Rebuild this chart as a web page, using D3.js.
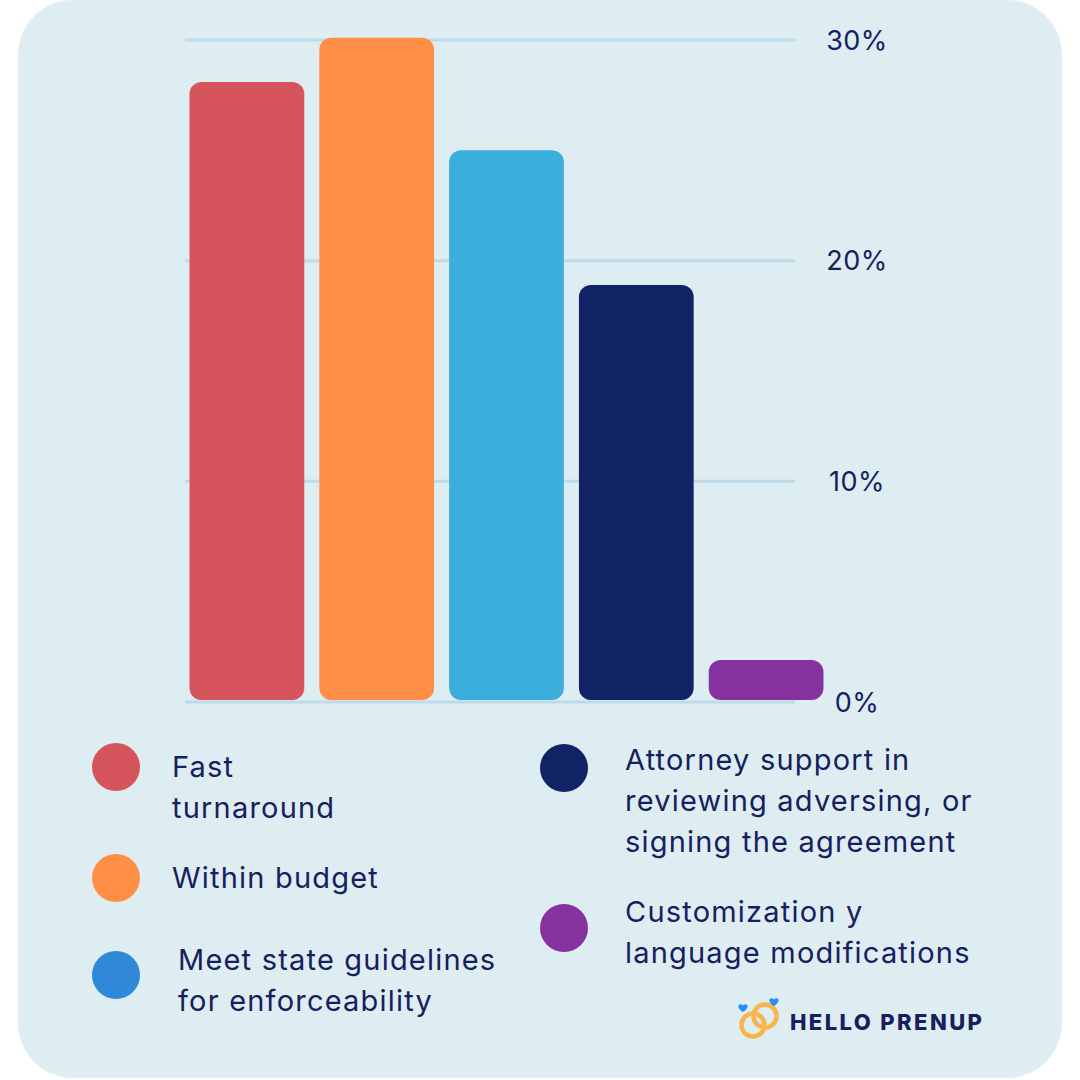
<!DOCTYPE html>
<html>
<head>
<meta charset="utf-8">
<script src="https://cdn.jsdelivr.net/npm/d3@7"></script>
<style>
  body { margin: 0; background: #fff; }
  svg text { font-family: "Inter", "Lato", sans-serif; fill: #16205e; }
</style>
</head>
<body>
<div id="chart"></div>
<script>
// data
const categories = ["Fast turnaround", "Within budget", "Meet state guidelines for enforceability",
  "Attorney support in reviewing adversing, or signing the agreement", "Customization y language modifications"];
const values = [28.1, 30.1, 25.0, 18.9, 1.9];
const barColors = ["#d6545c", "#ff8f47", "#3aafdb", "#112265", "#8531a0"];
const legendColors = ["#d6545c", "#ff8f47", "#2f88d8", "#112265", "#8531a0"];
const legendLines = [
  ["Fast", "turnaround"],
  ["Within budget"],
  ["Meet state guidelines", "for enforceability"],
  ["Attorney support in", "reviewing adversing, or", "signing the agreement"],
  ["Customization y", "language modifications"]
];
const yTicks = [0, 10, 20, 30];

const W = 1080, H = 1080;

let svg = d3.select("#chart").append("svg")
  .attr("width", W)
  .attr("height", H);

// card background
svg.append("rect")
  .attr("x", 18).attr("y", 0)
  .attr("width", 1044).attr("height", 1078)
  .attr("rx", 55)
  .attr("fill", "#deedf1");

let x = d3.scaleBand()
  .domain(categories)
  .range([182, 831])
  .paddingInner(0.116)
  .paddingOuter(0.058);

let y = d3.scaleLinear()
  .domain([0, 30])
  .range([702, 40]);

// gridlines
svg.append("g").selectAll("line")
  .data(yTicks)
  .enter().append("line")
  .attr("x1", 185).attr("x2", 795)
  .attr("y1", d => y(d)).attr("y2", d => y(d))
  .attr("stroke", "#bddbea")
  .attr("stroke-width", 3);

// tick labels on the right
svg.append("g").selectAll("text")
  .data(yTicks)
  .enter().append("text")
  .attr("x", 857)
  .attr("y", d => y(d))
  .attr("dy", "0.36em")
  .attr("text-anchor", "middle")
  .attr("font-size", 27)
  .attr("letter-spacing", 0.5)
  .text(d => d + "%");

// bars
svg.append("g").selectAll("rect")
  .data(values)
  .enter().append("rect")
  .attr("x", (d, i) => x(categories[i]))
  .attr("y", d => y(d))
  .attr("width", x.bandwidth())
  .attr("height", d => y(0) - 2 - y(d))
  .attr("rx", 12)
  .attr("fill", (d, i) => barColors[i]);

// legend
const legendPos = [
  { cx: 116, cy: 767, tx: 172, ty: 777 },
  { cx: 116, cy: 878, tx: 172, ty: 888 },
  { cx: 116, cy: 975, tx: 178, ty: 970 },
  { cx: 564, cy: 768, tx: 625, ty: 770 },
  { cx: 564, cy: 928, tx: 625, ty: 922 }
];
let legend = svg.append("g").selectAll("g")
  .data(legendLines)
  .enter().append("g");

legend.append("circle")
  .attr("cx", (d, i) => legendPos[i].cx)
  .attr("cy", (d, i) => legendPos[i].cy)
  .attr("r", 24)
  .attr("fill", (d, i) => legendColors[i]);

legend.append("text")
  .attr("font-size", 29)
  .attr("letter-spacing", 1.2)
  .each(function (lines, i) {
    let t = d3.select(this);
    lines.forEach((l, j) => {
      t.append("tspan")
        .attr("x", legendPos[i].tx)
        .attr("y", legendPos[i].ty + j * 41)
        .text(l);
    });
  });

// logo: two rings and two little hearts
let logo = svg.append("g");
logo.append("circle").attr("cx", 753).attr("cy", 1025).attr("r", 11.5)
  .attr("fill", "none").attr("stroke", "#f9b54c").attr("stroke-width", 4.5);
logo.append("circle").attr("cx", 765).attr("cy", 1016).attr("r", 11.5)
  .attr("fill", "none").attr("stroke", "#f9b54c").attr("stroke-width", 4.5);
function heart(cx, cy, s) {
  return `M ${cx} ${cy + s} C ${cx - 2 * s} ${cy - 0.2 * s}, ${cx - s} ${cy - 1.6 * s}, ${cx} ${cy - 0.6 * s}
    C ${cx + s} ${cy - 1.6 * s}, ${cx + 2 * s} ${cy - 0.2 * s}, ${cx} ${cy + s} Z`;
}
logo.append("path").attr("d", heart(743, 1008, 4)).attr("fill", "#2a8ef0");
logo.append("path").attr("d", heart(774, 1002, 4)).attr("fill", "#2a8ef0");
logo.append("text")
  .attr("x", 790).attr("y", 1030)
  .attr("font-size", 22)
  .attr("font-weight", 800)
  .attr("letter-spacing", 2.4)
  .text("HELLO PRENUP");
</script>
</body>
</html>
